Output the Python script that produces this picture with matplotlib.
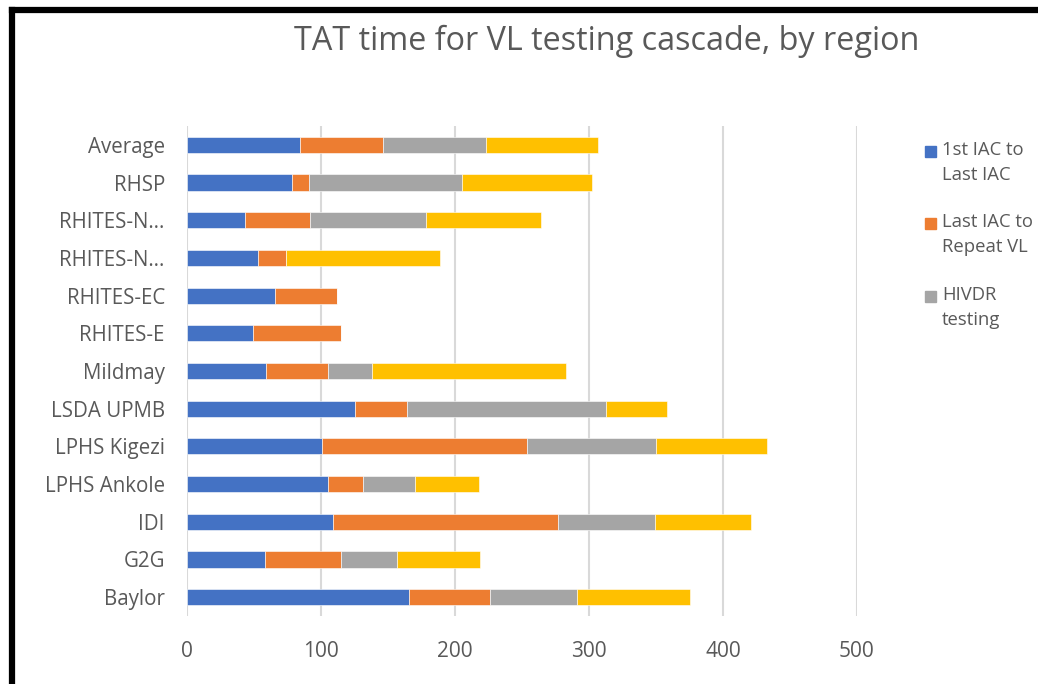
import matplotlib.pyplot as plt
import numpy as np
from matplotlib.patches import Rectangle

# data (bottom to top)
regions = ['Baylor', 'G2G', 'IDI', 'LPHS Ankole', 'LPHS Kigezi', 'LSDA UPMB',
           'Mildmay', 'RHITES-E', 'RHITES-EC', 'RHITES-N\u2026', 'RHITES-N\u2026',
           'RHSP', 'Average']
iacToIac = [166, 58, 109, 105, 101, 125, 59, 49, 66, 53, 43, 78, 84]
iacToRepeat = [60, 57, 168, 26, 153, 39, 46, 66, 46, 21, 49, 13, 62]
hivdr = [65, 42, 72, 39, 96, 149, 33, 0, 0, 0, 86, 114, 77]
resultReturn = [84, 62, 72, 48, 83, 45, 145, 0, 0, 115, 86, 97, 84]

seriesNames = ['1st IAC to\nLast IAC', 'Last IAC to\nRepeat VL', 'HIVDR\ntesting', 'HIVDR result']
colours = ['#4472C4', '#ED7D31', '#A5A5A5', '#FFC000']
txtCol = '#595959'

plt.rcParams['font.family'] = ['Open Sans', 'DejaVu Sans']

fig = plt.figure(figsize=(10.38, 6.84), dpi=100)
W, H = 1038, 684
ax = fig.add_axes([187 / W, 1 - 616 / H, 670 / W, 490 / H])

y = np.arange(len(regions))
left = np.zeros(len(regions))
for vals, col in zip([iacToIac, iacToRepeat, hivdr, resultReturn], colours):
    vals = np.array(vals, dtype=float)
    ax.barh(y, vals, left=left, height=0.43, color=col, edgecolor='white', linewidth=0.4, zorder=3)
    left += vals

ax.set_xlim(0, 500)
ax.set_ylim(-0.5, len(regions) - 0.5)
ax.set_xticks(np.arange(0, 501, 100))
ax.set_yticks(y)
ax.set_yticklabels(regions)
ax.tick_params(axis='both', length=0, colors=txtCol)
ax.tick_params(axis='y', pad=16, labelsize=14.8)
ax.tick_params(axis='x', pad=18, labelsize=15)
ax.xaxis.grid(True, color='#D9D9D9', linewidth=1.5, zorder=0)
for s in ax.spines.values():
    s.set_visible(False)

fig.text(607 / W, 1 - 41 / H, 'TAT time for VL testing cascade, by region',
         ha='center', va='center', fontsize=23.3, color=txtCol)

# legend, drawn by hand so the square sits on the first line
legY = [151, 223, 296]
for i in range(3):
    fig.patches.append(Rectangle((925 / W, 1 - (legY[i] + 6) / H), 11 / W, 11 / H,
                                 transform=fig.transFigure, color=colours[i]))
    fig.text(942 / W, 1 - (legY[i] - 10) / H, seriesNames[i], ha='left', va='top',
             fontsize=13.3, color=txtCol, linespacing=1.5)

# black frame (cropped on right and bottom)
fig.add_artist(plt.Line2D([12 / W, 12 / W], [0, 1 - 10 / H], transform=fig.transFigure,
                          color='black', linewidth=4.5, solid_capstyle='projecting'))
fig.add_artist(plt.Line2D([12 / W, 1], [1 - 10 / H, 1 - 10 / H], transform=fig.transFigure,
                          color='black', linewidth=4.5, solid_capstyle='projecting'))

fig.savefig('out.png', dpi=100)
